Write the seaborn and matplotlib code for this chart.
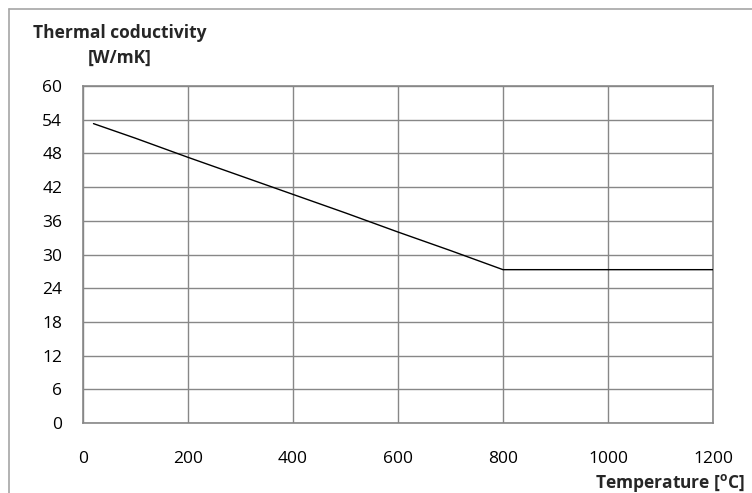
import matplotlib
matplotlib.use("Agg")
import matplotlib.pyplot as plt
from matplotlib.lines import Line2D
import seaborn as sns
import pandas as pd

# Thermal conductivity of steel versus temperature
temperature = [20, 100, 200, 300, 400, 500, 600, 700, 800, 1200]
conductivity = [53.3, 50.7, 47.3, 44.0, 40.7, 37.4, 34.0, 30.7, 27.3, 27.3]

x_ticks = [0, 200, 400, 600, 800, 1000, 1200]
y_ticks = [0, 6, 12, 18, 24, 30, 36, 42, 48, 54, 60]

sns.set_theme(style="white")
plt.rcParams["font.family"] = ["Open Sans", "DejaVu Sans"]
plt.rcParams["mathtext.fontset"] = "custom"
plt.rcParams["mathtext.rm"] = "Open Sans"
plt.rcParams["mathtext.bf"] = "Open Sans:bold"

df = pd.DataFrame({"Temperature": temperature, "Conductivity": conductivity})

fig = plt.figure(figsize=(7.52, 4.93), dpi=100)
ax = fig.add_axes([83 / 752, 1 - 423 / 493, 630 / 752, 337 / 493])

sns.lineplot(data=df, x="Temperature", y="Conductivity", ax=ax,
             color="black", linewidth=1.0, zorder=3)

grid_color = "#878787"
ax.set_xlim(0, 1200)
ax.set_ylim(0, 60)
ax.set_xticks(x_ticks)
ax.set_yticks(y_ticks)
ax.set_xticklabels([str(v) for v in x_ticks])
ax.set_yticklabels([str(v) for v in y_ticks])
ax.grid(True, color=grid_color, linewidth=1.0)
for side in ["left", "right", "top", "bottom"]:
    ax.spines[side].set_visible(True)
    ax.spines[side].set_color(grid_color)
    ax.spines[side].set_linewidth(1.2)
ax.tick_params(axis="x", length=0, pad=20, labelsize=12.5, colors="black")
ax.tick_params(axis="y", length=0, pad=15, labelsize=12.5, colors="black")
ax.set_xlabel("")
ax.set_ylabel("")

fig.text(33 / 752, 1 - 33 / 493, "Thermal coductivity", fontsize=12.5,
         fontweight="bold", ha="left", va="center")
fig.text(88 / 752, 1 - 58 / 493, "[W/mK]", fontsize=12.5,
         fontweight="bold", ha="left", va="center")
fig.text(745 / 752, 1 - 483 / 493, r"Temperature [$\mathbf{^o}$C]", fontsize=12.5,
         fontweight="bold", ha="right", va="center")

# chart-area frame
frame_color = "#a6a6a6"
fig.add_artist(Line2D([9 / 752, 1.0], [1 - 9 / 493, 1 - 9 / 493],
                      transform=fig.transFigure, color=frame_color, linewidth=1.2))
fig.add_artist(Line2D([9 / 752, 9 / 752], [0.0, 1 - 9 / 493],
                      transform=fig.transFigure, color=frame_color, linewidth=1.2))

fig.savefig("out.png", dpi=100)
